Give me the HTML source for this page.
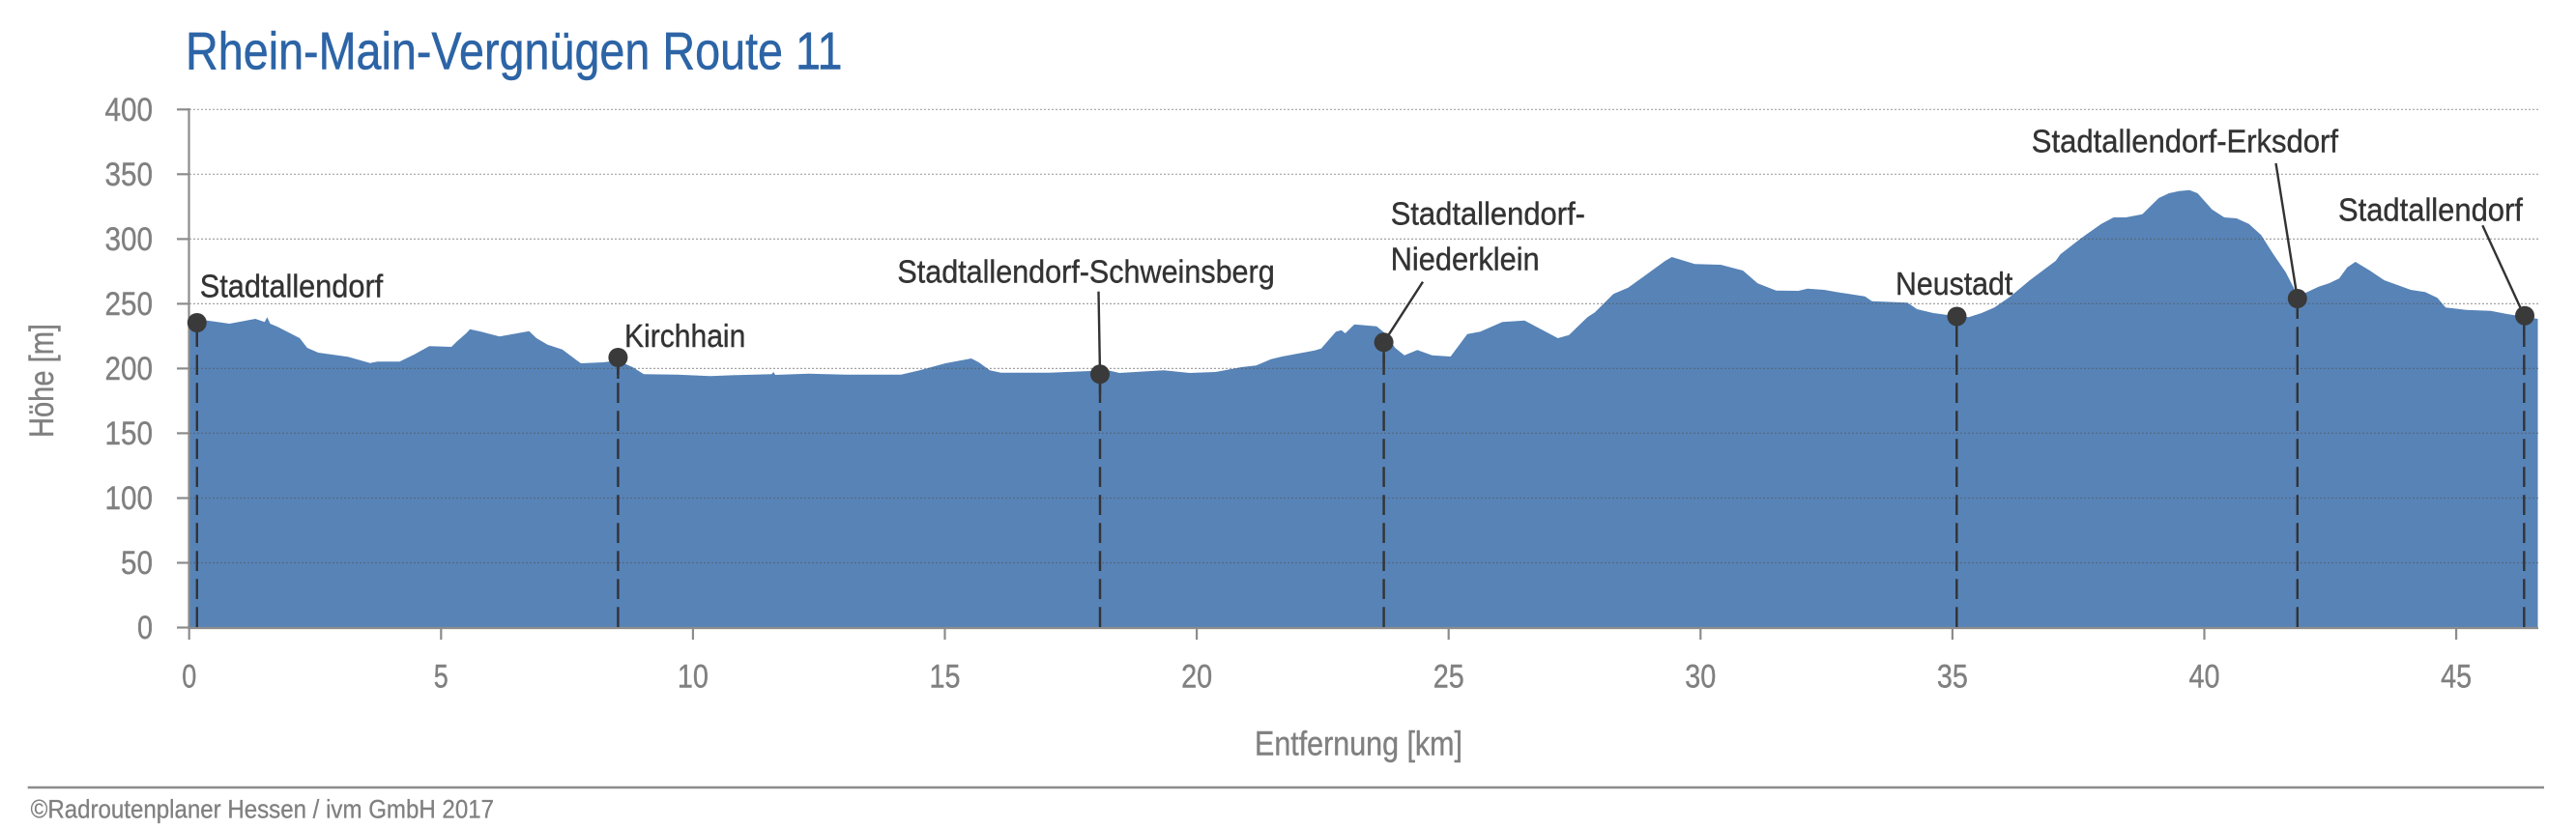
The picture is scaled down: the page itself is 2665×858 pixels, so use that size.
<!DOCTYPE html>
<html><head><meta charset="utf-8"><style>
html,body{margin:0;padding:0;background:#fff;}
svg{display:block;}
text{font-family:"Liberation Sans",sans-serif;}
</style></head><body>
<svg width="2665" height="858" viewBox="0 0 2665 858" xmlns="http://www.w3.org/2000/svg">
<rect width="2665" height="858" fill="#fff"/>
<!-- title -->
<text x="192" y="71.7" font-size="55" fill="#2c64a6" stroke="#2c64a6" stroke-width="0.5" textLength="679.5" lengthAdjust="spacingAndGlyphs">Rhein-Main-Vergnügen Route 11</text>

<!-- area -->
<path fill="#5783b7" d="M195.7,650 L195.7,333 214.4,331.7 237.4,335 264.2,330 273.8,333.3 276.4,328.3 279.5,335 287.2,338.3 310.1,350 317.8,360 329.3,365 359.9,369.3 382.8,375.7 390.5,374.3 413.4,374.3 428.8,366.7 444.1,358.3 467,359 472.8,353.3 482.3,345 486.2,340.7 497.6,343.3 516.8,348.3 547.4,342.7 555,350 566.5,356.7 581.8,361.7 597.1,373.3 601,376 623.9,375 639.2,373.3 654.5,380 666,387.3 700.5,387.7 734.9,389.3 760,388.3 798.3,387.3 800.3,385 802,388 836.5,386.7 874.8,387.7 932.2,387.7 951.4,383.3 978.1,376 1004.9,371 1012.6,375 1024.1,383.3 1035.5,385.7 1085.3,385.7 1127.4,384 1146.5,383.3 1158,386 1203.9,383.3 1230.7,386 1257.5,385 1284.3,380 1299.6,378.3 1314.9,371.7 1326.4,369 1360,362.7 1366.8,360.7 1382.1,343.3 1387.8,341.7 1391.7,345 1401.2,335.7 1424.2,337.7 1433,345 1443.3,360 1452.9,367.7 1466.3,362.3 1481.6,367.7 1500.7,369 1518,345.7 1531.4,343.3 1554.3,333.3 1577.3,331.7 1611.7,350 1623.2,346.7 1642.3,328.3 1650,323.3 1669.1,304.3 1684.4,297.7 1699.7,286.7 1722.7,270 1729.6,266 1753.3,273.3 1780.1,274 1803.1,280 1818.4,293.3 1837.5,300.7 1860.5,301 1870,298.7 1887.3,300 1900,302.3 1929.3,306.7 1936.7,311.7 1973.3,313.3 1983.3,320 2000,324 2015,326 2036.7,328.3 2050,324 2063.3,318.3 2080,306.7 2100,290 2126.7,270 2131.5,263.3 2152.7,246.7 2173.9,231.7 2186.6,225 2199.3,225 2216.3,221.7 2233.3,205 2243.9,200 2254.5,197.7 2265.1,196.7 2273.5,200 2288.4,216.7 2301.1,225 2313.8,226 2326.6,231.7 2339.3,243.3 2352,263.3 2364.7,281.7 2372,296 2377,306 2385.9,302.7 2398.7,296.7 2409.3,293.3 2419.9,288.3 2428.3,276.7 2436.8,271 2451.7,280 2466.5,290 2494.1,300 2508.9,302.3 2521.6,308.3 2530.1,318.3 2551.3,320.7 2576.8,321.7 2593.7,325 2612.8,328 2625.5,330 L2625.5,650 Z"/>

<!-- gridlines -->
<g stroke="#555" stroke-opacity="0.55" stroke-width="1.2" stroke-dasharray="2 2">
<line x1="196" y1="113.3" x2="2627" y2="113.3"/>
<line x1="196" y1="180.3" x2="2627" y2="180.3"/>
<line x1="196" y1="247.4" x2="2627" y2="247.4"/>
<line x1="196" y1="314.4" x2="2627" y2="314.4"/>
<line x1="196" y1="381.4" x2="2627" y2="381.4"/>
<line x1="196" y1="448.4" x2="2627" y2="448.4"/>
<line x1="196" y1="515.5" x2="2627" y2="515.5"/>
<line x1="196" y1="582.5" x2="2627" y2="582.5"/>
</g>

<!-- axes -->
<g stroke="#8c8c8c" stroke-width="2.2">
<line x1="195.5" y1="112" x2="195.5" y2="651"/>
<line x1="194.5" y1="650" x2="2626" y2="650"/>
<line x1="183" y1="113.3" x2="195" y2="113.3"/>
<line x1="183" y1="180.3" x2="195" y2="180.3"/>
<line x1="183" y1="247.4" x2="195" y2="247.4"/>
<line x1="183" y1="314.4" x2="195" y2="314.4"/>
<line x1="183" y1="381.4" x2="195" y2="381.4"/>
<line x1="183" y1="448.4" x2="195" y2="448.4"/>
<line x1="183" y1="515.5" x2="195" y2="515.5"/>
<line x1="183" y1="582.5" x2="195" y2="582.5"/>
<line x1="183" y1="649.5" x2="195" y2="649.5"/>
<line x1="195.7" y1="650" x2="195.7" y2="662"/>
<line x1="456.3" y1="650" x2="456.3" y2="662"/>
<line x1="716.9" y1="650" x2="716.9" y2="662"/>
<line x1="977.5" y1="650" x2="977.5" y2="662"/>
<line x1="1238.1" y1="650" x2="1238.1" y2="662"/>
<line x1="1498.7" y1="650" x2="1498.7" y2="662"/>
<line x1="1759.3" y1="650" x2="1759.3" y2="662"/>
<line x1="2019.9" y1="650" x2="2019.9" y2="662"/>
<line x1="2280.5" y1="650" x2="2280.5" y2="662"/>
<line x1="2541.1" y1="650" x2="2541.1" y2="662"/>
</g>

<!-- y tick labels -->
<g font-size="34.5" fill="#808080" stroke="#808080" stroke-width="0.4" text-anchor="end">
<text x="158" y="125" textLength="49.5" lengthAdjust="spacingAndGlyphs">400</text>
<text x="158" y="192" textLength="49.5" lengthAdjust="spacingAndGlyphs">350</text>
<text x="158" y="259" textLength="49.5" lengthAdjust="spacingAndGlyphs">300</text>
<text x="158" y="326" textLength="49.5" lengthAdjust="spacingAndGlyphs">250</text>
<text x="158" y="393" textLength="49.5" lengthAdjust="spacingAndGlyphs">200</text>
<text x="158" y="460" textLength="49.5" lengthAdjust="spacingAndGlyphs">150</text>
<text x="158" y="527" textLength="49.5" lengthAdjust="spacingAndGlyphs">100</text>
<text x="158" y="594" textLength="33" lengthAdjust="spacingAndGlyphs">50</text>
<text x="158" y="661" textLength="16" lengthAdjust="spacingAndGlyphs">0</text>
</g>

<!-- x tick labels -->
<g font-size="34.5" fill="#808080" stroke="#808080" stroke-width="0.4" text-anchor="middle">
<text x="195.7" y="711.7" textLength="15" lengthAdjust="spacingAndGlyphs">0</text>
<text x="456.3" y="711.7" textLength="15" lengthAdjust="spacingAndGlyphs">5</text>
<text x="716.9" y="711.7" textLength="32" lengthAdjust="spacingAndGlyphs">10</text>
<text x="977.5" y="711.7" textLength="32" lengthAdjust="spacingAndGlyphs">15</text>
<text x="1238.1" y="711.7" textLength="32" lengthAdjust="spacingAndGlyphs">20</text>
<text x="1498.7" y="711.7" textLength="32" lengthAdjust="spacingAndGlyphs">25</text>
<text x="1759.3" y="711.7" textLength="32" lengthAdjust="spacingAndGlyphs">30</text>
<text x="2019.9" y="711.7" textLength="32" lengthAdjust="spacingAndGlyphs">35</text>
<text x="2280.5" y="711.7" textLength="32" lengthAdjust="spacingAndGlyphs">40</text>
<text x="2541.1" y="711.7" textLength="32" lengthAdjust="spacingAndGlyphs">45</text>
</g>

<!-- axis titles -->
<text x="1405.5" y="781.7" font-size="35" fill="#808080" stroke="#808080" stroke-width="0.4" text-anchor="middle" textLength="215" lengthAdjust="spacingAndGlyphs">Entfernung [km]</text>
<text transform="translate(55,394) rotate(-90)" x="0" y="0" font-size="35" fill="#808080" stroke="#808080" stroke-width="0.4" text-anchor="middle" textLength="118" lengthAdjust="spacingAndGlyphs">Höhe [m]</text>

<!-- dashed marker lines -->
<g stroke="#333" stroke-width="2.4" stroke-dasharray="20.7 8.3">
<line x1="203.8" y1="649" x2="203.8" y2="334"/>
<line x1="639.4" y1="649" x2="639.4" y2="370"/>
<line x1="1138" y1="649" x2="1138" y2="387.3"/>
<line x1="1431.6" y1="649" x2="1431.6" y2="354.3"/>
<line x1="2024.3" y1="649" x2="2024.3" y2="327.5"/>
<line x1="2376.8" y1="649" x2="2376.8" y2="309"/>
<line x1="2611.3" y1="649" x2="2611.3" y2="326.7"/>
</g>
<!-- solid segments just under circles -->
<g stroke="#333" stroke-width="2.4">
<line x1="203.8" y1="334" x2="203.8" y2="358"/>
<line x1="639.4" y1="370" x2="639.4" y2="392"/>
<line x1="1138" y1="387.3" x2="1138" y2="408"/>
<line x1="1431.6" y1="354.3" x2="1431.6" y2="376"/>
<line x1="2024.3" y1="327.5" x2="2024.3" y2="358"/>
<line x1="2376.8" y1="309" x2="2376.8" y2="330"/>
<line x1="2611.3" y1="326.7" x2="2611.3" y2="348"/>
</g>
<!-- leader lines -->
<g stroke="#333" stroke-width="2.4">
<line x1="1136.5" y1="301.7" x2="1138" y2="387.3"/>
<line x1="1472" y1="291.7" x2="1431.6" y2="354.3"/>
<line x1="2354.5" y1="169" x2="2376.8" y2="309"/>
<line x1="2568.3" y1="233.3" x2="2611.3" y2="326.7"/>
</g>
<!-- circles -->
<g fill="#3a3a3a">
<circle cx="203.8" cy="334" r="10"/>
<circle cx="639.4" cy="370" r="10"/>
<circle cx="1138" cy="387.3" r="10"/>
<circle cx="1431.6" cy="354.3" r="10"/>
<circle cx="2024.5" cy="327.5" r="10"/>
<circle cx="2376.8" cy="309" r="10"/>
<circle cx="2612" cy="326.7" r="10"/>
</g>

<!-- place labels -->
<g font-size="33" fill="#333" stroke="#333" stroke-width="0.4">
<text x="206.8" y="307.7" textLength="189.4" lengthAdjust="spacingAndGlyphs">Stadtallendorf</text>
<text x="646" y="359" textLength="125.3" lengthAdjust="spacingAndGlyphs">Kirchhain</text>
<text x="928.4" y="292.3" textLength="390.3" lengthAdjust="spacingAndGlyphs">Stadtallendorf-Schweinsberg</text>
<text x="1438.7" y="232.7" textLength="201.3" lengthAdjust="spacingAndGlyphs">Stadtallendorf-</text>
<text x="1438.7" y="279.3" textLength="154" lengthAdjust="spacingAndGlyphs">Niederklein</text>
<text x="1961" y="305" textLength="121.3" lengthAdjust="spacingAndGlyphs">Neustadt</text>
<text x="2101.8" y="157.3" textLength="317.2" lengthAdjust="spacingAndGlyphs">Stadtallendorf-Erksdorf</text>
<text x="2419" y="228.3" textLength="190.9" lengthAdjust="spacingAndGlyphs">Stadtallendorf</text>
</g>

<!-- footer -->
<line x1="28.7" y1="815" x2="2632" y2="815" stroke="#8c8c8c" stroke-width="2.4"/>
<text x="31.6" y="846.7" font-size="27" fill="#808080" stroke="#808080" stroke-width="0.3" textLength="479.4" lengthAdjust="spacingAndGlyphs">©Radroutenplaner Hessen / ivm GmbH 2017</text>
</svg>
</body></html>
